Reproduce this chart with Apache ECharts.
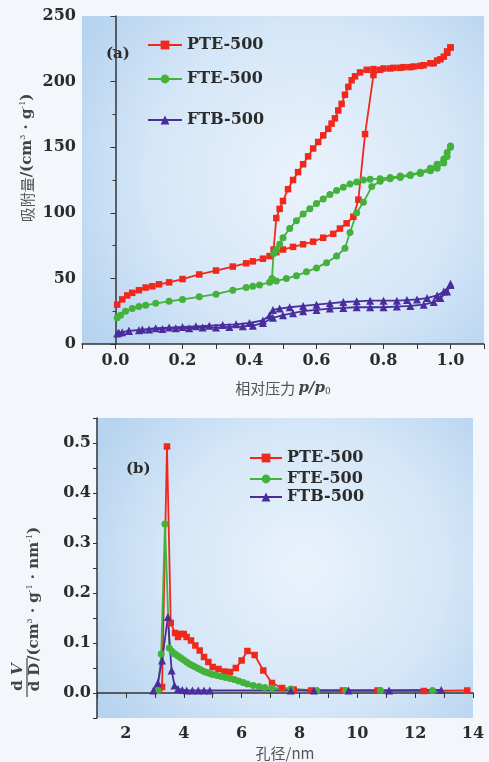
<!DOCTYPE html>
<html>
<head>
<meta charset="utf-8">
<script src="https://cdn.jsdelivr.net/npm/echarts@6/dist/echarts.min.js"></script>
<style>
html,body{margin:0;padding:0;background:#f3f6fa;}
#c{width:489px;height:762px;}
</style>
</head>
<body>
<div id="c"></div>
<script>
// ---------- Data: (a) N2 adsorption–desorption isotherms ----------
const names = ['PTE-500', 'FTE-500', 'FTB-500'];
const pteAds = [[0.005,30],[0.02,34],[0.035,37],[0.05,39],[0.07,41],[0.09,43],[0.11,44],[0.13,45.5],[0.16,47],[0.2,49.5],[0.25,53],[0.3,56],[0.35,59],[0.39,61.5],[0.41,63],[0.44,65],[0.46,67],[0.48,70],[0.5,72],[0.53,74],[0.56,76],[0.59,78],[0.62,81],[0.65,84],[0.67,88],[0.69,92],[0.71,97],[0.725,110],[0.745,160],[0.77,205],[0.79,209],[0.82,210],[0.85,210.5],[0.88,211],[0.91,212],[0.94,214],[0.96,216],[0.98,219],[0.99,223],[1.0,226]];
const pteDes = [[1.0,226],[0.99,222],[0.97,217],[0.95,214],[0.92,212.5],[0.89,211.5],[0.86,211],[0.83,210.5],[0.8,210],[0.77,209.5],[0.75,209],[0.73,207],[0.715,204],[0.705,201],[0.695,196],[0.685,190],[0.675,183],[0.665,178],[0.655,172],[0.645,168],[0.635,164],[0.62,159],[0.605,154],[0.59,149],[0.575,143],[0.56,137],[0.545,131],[0.53,125],[0.515,118],[0.5,109],[0.49,103],[0.48,96],[0.472,72]];
const fteAds = [[0.005,20],[0.015,22],[0.03,25],[0.05,27],[0.07,28.5],[0.09,29.5],[0.12,31],[0.16,32.5],[0.2,34],[0.25,36],[0.3,38],[0.35,41],[0.39,43],[0.41,44],[0.43,45],[0.46,47],[0.48,48],[0.51,50],[0.54,52],[0.57,55],[0.6,58],[0.63,62],[0.66,67],[0.685,73],[0.7,85],[0.72,100],[0.74,108],[0.765,120],[0.79,124],[0.82,126],[0.85,127],[0.88,128.5],[0.91,130],[0.94,132],[0.96,134],[0.98,138],[0.99,143],[1.0,150]];
const fteDes = [[1.0,151],[0.99,146],[0.98,141],[0.96,137],[0.94,134],[0.91,131],[0.88,129],[0.85,128],[0.82,127],[0.79,126],[0.76,125.5],[0.74,125],[0.72,123.5],[0.7,122],[0.68,119.5],[0.66,117],[0.64,114],[0.62,110.5],[0.6,107],[0.58,103],[0.56,99],[0.54,94],[0.52,88],[0.5,81],[0.49,76],[0.48,72],[0.472,69],[0.467,50]];
const ftbAds = [[0.005,8],[0.02,9],[0.04,10],[0.07,10.5],[0.1,11],[0.14,11.5],[0.18,12],[0.22,12],[0.26,12.5],[0.3,12.5],[0.34,13],[0.38,13.5],[0.41,14],[0.44,16],[0.47,20],[0.5,22],[0.53,23.5],[0.56,25],[0.6,26],[0.64,27],[0.68,27.5],[0.72,28],[0.76,28],[0.8,28],[0.84,28.5],[0.88,29],[0.92,30],[0.95,32],[0.97,35],[0.99,40],[1.0,45]];
const ftbDes = [[1.0,46],[0.98,40],[0.96,37],[0.93,35],[0.9,34],[0.87,33.5],[0.84,33],[0.8,33],[0.76,33],[0.72,32.5],[0.68,32],[0.64,31],[0.6,30],[0.56,29],[0.52,28],[0.49,27],[0.47,26],[0.46,22],[0.44,18],[0.4,16],[0.36,15],[0.32,14.5],[0.28,14],[0.24,13.5],[0.2,13],[0.16,12.5],[0.12,12],[0.08,11],[0.04,10],[0.01,8.5]];

// ---------- Data: (b) pore size distribution ----------
const ptePsd = [[3.15,0.005],[3.25,0.012],[3.42,0.493],[3.55,0.14],[3.7,0.12],[3.8,0.112],[3.9,0.118],[4.0,0.118],[4.1,0.112],[4.25,0.105],[4.4,0.095],[4.55,0.085],[4.7,0.072],[4.85,0.062],[5.0,0.052],[5.2,0.048],[5.4,0.043],[5.6,0.042],[5.8,0.05],[6.0,0.065],[6.2,0.084],[6.45,0.076],[6.75,0.045],[7.05,0.02],[7.4,0.01],[7.8,0.007],[8.4,0.005],[9.5,0.005],[10.7,0.005],[12.3,0.004],[13.8,0.005]];
const ftePsd = [[3.1,0.005],[3.22,0.078],[3.35,0.338],[3.5,0.09],[3.6,0.083],[3.7,0.078],[3.8,0.074],[3.9,0.07],[4.0,0.066],[4.1,0.062],[4.2,0.058],[4.3,0.055],[4.4,0.052],[4.5,0.049],[4.6,0.046],[4.7,0.043],[4.8,0.041],[4.9,0.039],[5.0,0.037],[5.15,0.035],[5.3,0.033],[5.45,0.031],[5.6,0.029],[5.75,0.027],[5.9,0.024],[6.05,0.021],[6.2,0.018],[6.4,0.015],[6.6,0.013],[6.8,0.011],[7.05,0.01],[7.7,0.008],[8.6,0.005],[9.6,0.005],[10.8,0.005],[12.6,0.005]];
const ftbPsd = [[2.95,0.005],[3.1,0.02],[3.25,0.065],[3.45,0.152],[3.58,0.045],[3.68,0.015],[3.8,0.008],[3.95,0.006],[4.1,0.005],[4.3,0.005],[4.5,0.005],[4.7,0.005],[4.9,0.005],[7.7,0.005],[8.5,0.005],[9.7,0.005],[11.1,0.005],[12.9,0.006]];

// ---------- Tick labels ----------
const xTicksA = [0, 0.2, 0.4, 0.6, 0.8, 1.0];
const xMinorA = [-0.1, 0, 0.1, 0.2, 0.3, 0.4, 0.5, 0.6, 0.7, 0.8, 0.9, 1.0, 1.1];
const xTicksB = [2, 4, 6, 8, 10, 12, 14];
const xMinorB = [1, 2, 3, 4, 5, 6, 7, 8, 9, 10, 11, 12, 13, 14];
const yTicksB = [0, 0.1, 0.2, 0.3, 0.4, 0.5];
const yMinorB = [-0.05, 0, 0.05, 0.1, 0.15, 0.2, 0.25, 0.3, 0.35, 0.4, 0.45, 0.5, 0.55];

const colors = ['#f0281c', '#43b23a', '#4a2c9c'];
const symbols = ['rect', 'circle', 'triangle'];
const serif = '"DejaVu Serif", "Liberation Serif", serif';
const cjk = '"Noto Sans CJK SC", sans-serif';

const bg = {
  type: 'radial', x: 0.55, y: 0.5, r: 0.8,
  colorStops: [{offset: 0, color: '#eaf3fc'}, {offset: 0.6, color: '#d4e6f7'}, {offset: 1, color: '#b6d3ef'}]
};

function lbl(size) {
  return {fontFamily: serif, fontWeight: 'bold', fontSize: size, color: '#2b2b2b'};
}
const axisLine = {show: true, lineStyle: {color: '#333', width: 1.5}};

const chart = echarts.init(document.getElementById('c'));

function mk(i, d, xi) {
  return {
    name: names[i], type: 'line', xAxisIndex: xi, yAxisIndex: xi,
    data: d,
    symbol: symbols[i], symbolSize: i === 2 ? 8 : (i === 1 ? 7 : 6.5),
    lineStyle: {color: colors[i], width: 1.8},
    itemStyle: {color: colors[i]},
    animation: false
  };
}

const legends = [];
const legTopA = [32, 66, 107];
const legTopB = [445, 466, 484];
for (let i = 0; i < 3; i++) {
  legends.push({
    data: [{name: names[i]}], left: 142, top: legTopA[i], itemWidth: 34, itemHeight: 11,
    textStyle: lbl(16), itemGap: 0, selectedMode: false
  });
}
for (let i = 0; i < 3; i++) {
  legends.push({
    data: [{name: names[i]}], left: 244, top: legTopB[i], itemWidth: 32, itemHeight: 11,
    textStyle: lbl(16), itemGap: 0, selectedMode: false
  });
}

const option = {
  backgroundColor: '#f3f6fa',
  animation: false,
  legend: legends,
  grid: [
    {left: 82, top: 16, right: 5, height: 328, show: true, backgroundColor: bg, borderWidth: 0},
    {left: 97, top: 418, right: 16, height: 300, show: true, backgroundColor: bg, borderWidth: 0}
  ],
  xAxis: [
    {
      type: 'value', gridIndex: 0, min: -0.1, max: 1.1,
      axisLine: axisLine, splitLine: {show: false},
      axisTick: {show: true, customValues: xMinorA, length: 5, lineStyle: {color: '#333'}},
      axisLabel: {customValues: xTicksA, formatter: v => v.toFixed(1), margin: 9, ...lbl(16)},
      name: '{c|相对压力 }{i|p/p}{s|0}', nameLocation: 'middle', nameGap: 37,
      nameTextStyle: {rich: {
        c: {fontFamily: cjk, fontSize: 15, color: '#555'},
        i: {fontFamily: serif, fontStyle: 'italic', fontWeight: 'bold', fontSize: 15, color: '#444'},
        s: {fontFamily: serif, fontSize: 9, color: '#444', verticalAlign: 'bottom', padding: [6, 0, 0, 0]}
      }}
    },
    {
      type: 'value', gridIndex: 1, min: 1, max: 14,
      axisLine: axisLine, splitLine: {show: false},
      axisTick: {show: true, customValues: xMinorB, length: 5, lineStyle: {color: '#333'}},
      axisLabel: {customValues: xTicksB, margin: 8, ...lbl(16)},
      name: '孔径/nm', nameLocation: 'middle', nameGap: 28,
      nameTextStyle: {fontFamily: cjk, fontSize: 15, color: '#555'}
    }
  ],
  yAxis: [
    {
      type: 'value', gridIndex: 0, min: 0, max: 250, interval: 50,
      axisLine: axisLine, splitLine: {show: false},
      axisTick: {show: true, length: 5, lineStyle: {color: '#333'}},
      minorTick: {show: true, splitNumber: 2, length: 3, lineStyle: {color: '#333'}},
      axisLabel: {margin: 6, ...lbl(16)}
    },
    {
      type: 'value', gridIndex: 1, min: -0.05, max: 0.55,
      axisLine: axisLine, splitLine: {show: false},
      axisTick: {show: true, customValues: yMinorB, length: 4, lineStyle: {color: '#333'}},
      axisLabel: {customValues: yTicksB, formatter: v => v.toFixed(1), margin: 6, ...lbl(16)}
    }
  ],
  graphic: [
    {type: 'text', left: 106, top: 47, style: {text: '(a)', font: 'bold 15px ' + serif, fill: '#2b2b2b'}},
    {type: 'text', left: 126, top: 462, style: {text: '(b)', font: 'bold 15px ' + serif, fill: '#2b2b2b'}},
    {type: 'text', x: 27, y: 158, rotation: Math.PI / 2,
      style: {text: '{c|吸附量}{e|/(cm}{s|3}{e| · g}{s|-1}{e|)}', align: 'center', verticalAlign: 'middle',
        rich: {
          c: {fontFamily: cjk, fontSize: 15, fill: '#555'},
          e: {fontFamily: serif, fontWeight: 'bold', fontSize: 15, fill: '#444'},
          s: {fontFamily: serif, fontSize: 8, fill: '#444', verticalAlign: 'top', padding: [0, 0, 8, 0]}
        }}},
    {type: 'text', x: 18, y: 677, rotation: Math.PI / 2,
      style: {text: '{e|d }{i|V}', align: 'center', verticalAlign: 'middle',
        rich: {
          e: {fontFamily: serif, fontWeight: 'bold', fontSize: 15, fill: '#444'},
          i: {fontFamily: serif, fontWeight: 'bold', fontStyle: 'italic', fontSize: 15, fill: '#444'}
        }}},
    {type: 'line', shape: {x1: 27, y1: 658, x2: 27, y2: 697}, style: {stroke: '#444', lineWidth: 1.2}},
    {type: 'text', x: 35, y: 677, rotation: Math.PI / 2,
      style: {text: 'd D', align: 'center', verticalAlign: 'middle', font: 'bold 15px ' + serif, fill: '#444'}},
    {type: 'text', x: 34, y: 594, rotation: Math.PI / 2,
      style: {text: '{e|/(cm}{s|3}{e| · g}{s|-1}{e| · nm}{s|-1}{e|)}', align: 'center', verticalAlign: 'middle',
        rich: {
          e: {fontFamily: serif, fontWeight: 'bold', fontSize: 15, fill: '#444'},
          s: {fontFamily: serif, fontSize: 8, fill: '#444', verticalAlign: 'top', padding: [0, 0, 8, 0]}
        }}}
  ],
  series: [
    mk(0, pteAds.concat(pteDes), 0),
    mk(1, fteAds.concat(fteDes), 0),
    mk(2, ftbAds.concat(ftbDes), 0),
    mk(0, ptePsd, 1),
    mk(1, ftePsd, 1),
    mk(2, ftbPsd, 1)
  ]
};
chart.setOption(option);
</script>
</body>
</html>
